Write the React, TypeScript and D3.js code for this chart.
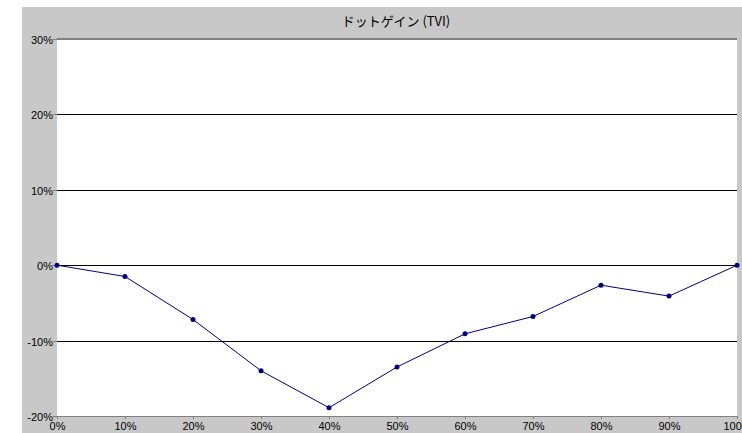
import React from "react";
import * as d3 from "d3";

const categories = ["0%", "10%", "20%", "30%", "40%", "50%", "60%", "70%", "80%", "90%", "100%"];
const xValues = [0, 10, 20, 30, 40, 50, 60, 70, 80, 90, 100];
const tviValues = [0, -1.5, -7.2, -14.0, -18.9, -13.5, -9.1, -6.8, -2.65, -4.1, 0];
const yTicks = [-20, -10, 0, 10, 20, 30];
const title = "ドットゲイン (TVI)";

const W = 742;
const H = 433;
const plot = { left: 57, top: 39, right: 737, bottom: 416 };

export default function App() {
  const x = d3.scaleLinear().domain([0, 100]).range([plot.left, plot.right]);
  const y = d3.scaleLinear().domain([-20, 30]).range([plot.bottom, plot.top]);
  const line = d3
    .line<number>()
    .x((_, i) => x(xValues[i]))
    .y((d) => y(d));
  const font = "'Liberation Sans', Arial, sans-serif";
  const fmt = (v: number) => (v < 0 ? "-" : "") + Math.abs(v) + "%";
  return (
    <svg
      width={W}
      height={H}
      style={{ position: "fixed", left: 0, top: 0, display: "block" }}
    >
      <rect x={0} y={0} width={W} height={H} fill="#ffffff" />
      <rect x={22} y={7} width={W - 22} height={H - 7} fill="#c8c8c8" />
      <rect
        x={plot.left}
        y={plot.top}
        width={plot.right - plot.left}
        height={plot.bottom - plot.top}
        fill="#ffffff"
      />
      <text
        x={396}
        y={26}
        textAnchor="middle"
        fontSize={13}
        fontFamily="'Noto Sans CJK JP', sans-serif"
        fill="#000"
      >
        {title}
      </text>
      {yTicks.map((t) => {
        const yy = Math.round(y(t)) + 0.5;
        const isTop = t === 30;
        const isBottom = t === -20;
        return (
          <g key={t}>
            <line
              x1={plot.left}
              x2={plot.right}
              y1={isTop ? yy - 0.5 : yy}
              y2={isTop ? yy - 0.5 : yy}
              stroke={isTop || isBottom ? "#808080" : "#000"}
              strokeWidth={isTop ? 2 : 1}
            />
            <line x1={plot.left - 4} x2={plot.left} y1={yy} y2={yy} stroke="#808080" />
            <text
              x={plot.left - 4}
              y={yy + 4}
              textAnchor="end"
              fontSize={11}
              fontFamily={font}
              fill="#000"
            >
              {fmt(t)}
            </text>
          </g>
        );
      })}
      {xValues.map((v, i) => {
        const xx = Math.round(x(v)) + 0.5;
        return (
          <g key={v}>
            <line x1={xx} x2={xx} y1={plot.bottom} y2={plot.bottom + 3} stroke="#808080" />
            <text
              x={xx}
              y={plot.bottom + 14}
              textAnchor="middle"
              fontSize={11}
              fontFamily={font}
              fill="#000"
            >
              {categories[i]}
            </text>
          </g>
        );
      })}
      <path d={line(tviValues) || ""} fill="none" stroke="#000080" strokeWidth={1} />
      {tviValues.map((v, i) => (
        <circle key={i} cx={x(xValues[i])} cy={y(v)} r={2.5} fill="#000080" />
      ))}
    </svg>
  );
}
